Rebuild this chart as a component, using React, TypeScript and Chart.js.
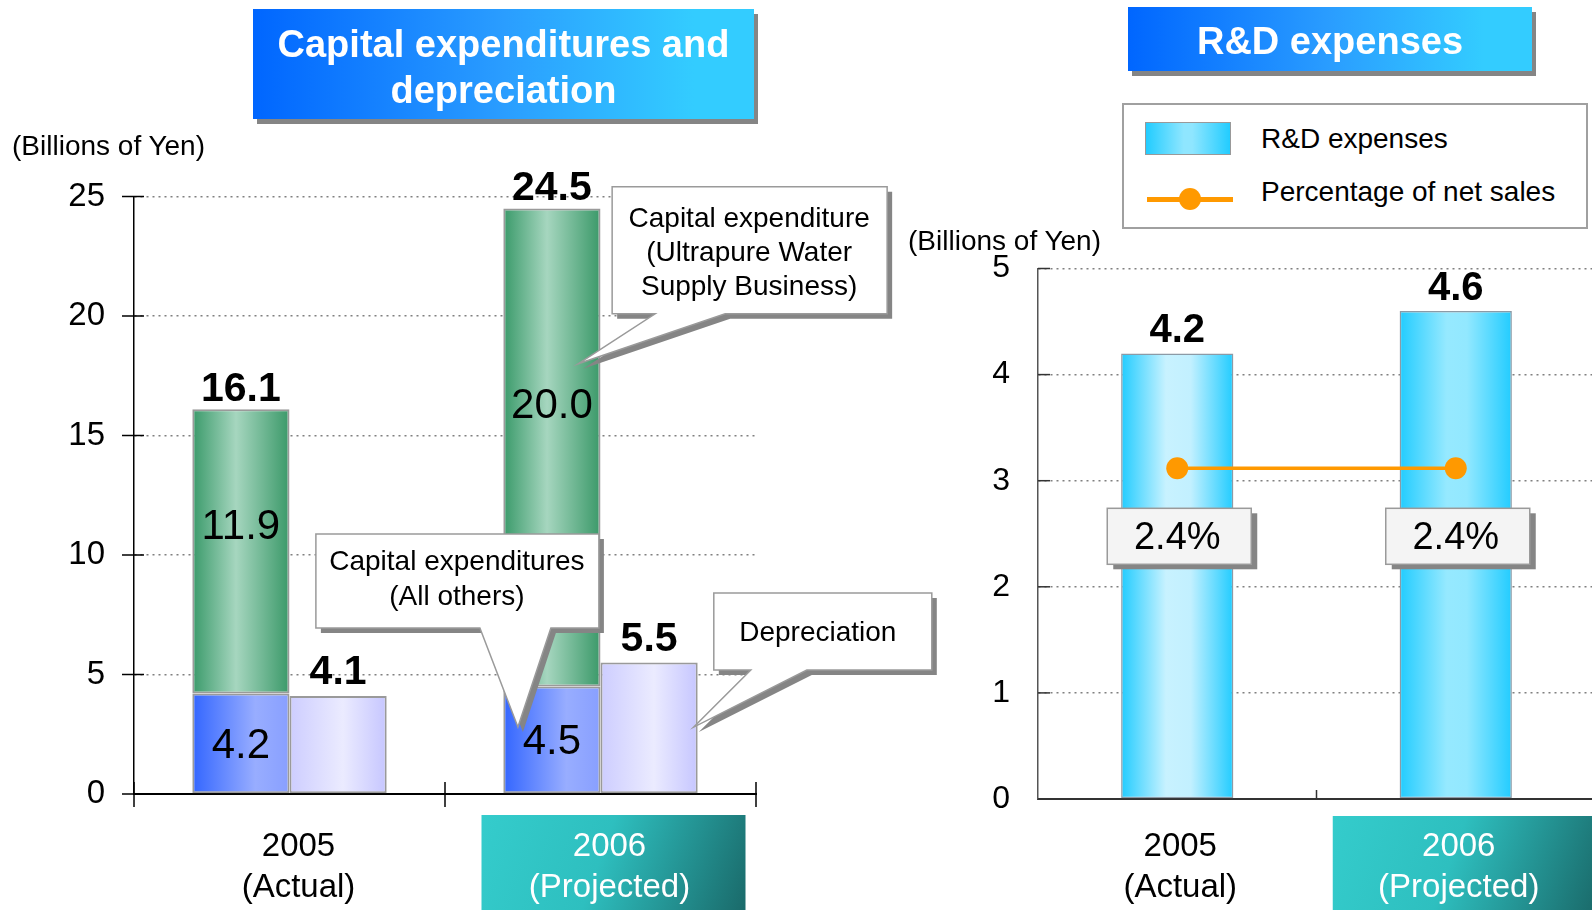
import { useEffect, useRef } from "react";
import { Chart, registerables } from "chart.js";

Chart.register(...registerables);

const FONT = "'Liberation Sans', Arial, Helvetica, sans-serif";

// ---------------- data ----------------
const years = ["2005", "2006"];
const yearNotes = ["(Actual)", "(Projected)"];
const capexOthers = [4.2, 4.5];
const capexUltrapure = [11.9, 20.0];
const depreciation = [4.1, 5.5];
const capexTicks = [0, 5, 10, 15, 20, 25];
const rdExpenses = [4.2, 4.6];
const rdPercentOfSales = [2.4, 2.4];
const rdTicks = [0, 1, 2, 3, 4, 5];

const capexTitle = ["Capital expenditures and", "depreciation"];
const rdTitle = "R&D expenses";
const unitLabel = "(Billions of Yen)";
const othersName = "Capital expenditures (All others)";
const ultraName = "Capital expenditure (Ultrapure Water Supply Business)";
const depName = "Depreciation";
const rdName = "R&D expenses";
const pctName = "Percentage of net sales";

// ---------------- annotations (layout only) ----------------
const capexCallouts = [
  { dataset: 1, index: 1, lines: ["Capital expenditure", "(Ultrapure Water", "Supply Business)"], tipFrac: 0.27, tipValue: 18.0, dx: 34, dy: -177, w: 275, h: 127, b1: 43, b2: 113, textDx: 137, textDys: [32, 66, 100] },
  { dataset: 0, index: 1, lines: ["Capital expenditures", "(All others)"], tipFrac: -0.35, tipValue: 2.8, dx: -202, dy: -193, w: 283, h: 94, b1: 164, b2: 235, textDx: 141, textDys: [28, 63] },
  { dataset: 2, index: 1, lines: ["Depreciation"], tipFrac: 0.46, tipValue: 2.8, dx: 20, dy: -134, w: 218, h: 77, b1: 37, b2: 93, textDx: 104, textDys: [40] },
];

type Stops = [number, string][];
const othersStops: Stops = [[0, "#3366ff"], [0.65, "#98adff"], [1, "#889fff"]];
const ultraStops: Stops = [[0, "#3a9a6a"], [0.45, "#a6d6bf"], [1, "#3b9969"]];
const depStops: Stops = [[0, "#cdcdff"], [0.55, "#ebebff"], [1, "#c6c6ff"]];
const rdStops: Stops[] = [
  [[0, "#22ccff"], [0.4, "#c8f2ff"], [0.62, "#c2f0ff"], [1, "#22ccff"]],
  [[0, "#22ccff"], [0.42, "#96e9ff"], [0.6, "#92e8ff"], [1, "#22ccff"]],
];

function barGradient(stopsFor: (i: number) => Stops, stackIdx: number, nStacks: number, catPct: number, barPct: number) {
  return (c: any) => {
    const chart = c.chart;
    const idx = c.dataIndex ?? 0;
    const stops = stopsFor(idx);
    const xs = chart.scales?.x;
    if (!chart.chartArea || !xs || c.dataIndex === undefined) return stops[1][1];
    const n = chart.data.labels.length;
    const catW = (xs.right - xs.left) / n;
    const center = xs.getPixelForValue(idx);
    const groupW = catW * catPct;
    const slot = groupW / nStacks;
    const barW = slot * barPct;
    const x0 = center - groupW / 2 + stackIdx * slot + (slot - barW) / 2;
    const g = chart.ctx.createLinearGradient(x0, 0, x0 + barW, 0);
    stops.forEach(([o, col]) => g.addColorStop(o, col));
    return g;
  };
}

function line(ctx: CanvasRenderingContext2D, x1: number, y1: number, x2: number, y2: number) {
  ctx.beginPath();
  ctx.moveTo(x1, y1);
  ctx.lineTo(x2, y2);
  ctx.stroke();
}

function drawTealBox(ctx: CanvasRenderingContext2D, x: number, y: number, w: number, h: number) {
  const g = ctx.createLinearGradient(x, y, x + w, y + h);
  g.addColorStop(0, "#34cccc");
  g.addColorStop(0.45, "#2ebfbf");
  g.addColorStop(1, "#1a6a6a");
  ctx.save();
  ctx.fillStyle = g;
  ctx.fillRect(x, y, w, h);
  ctx.restore();
}

function drawCallout(ctx: CanvasRenderingContext2D, bx: number, by: number, w: number, h: number, b1: number, b2: number, tx: number, ty: number) {
  const path = (dx: number, dy: number) => {
    ctx.beginPath();
    ctx.moveTo(bx + dx, by + dy);
    ctx.lineTo(bx + w + dx, by + dy);
    ctx.lineTo(bx + w + dx, by + h + dy);
    ctx.lineTo(bx + b2 + dx, by + h + dy);
    ctx.lineTo(tx + dx, ty + dy);
    ctx.lineTo(bx + b1 + dx, by + h + dy);
    ctx.lineTo(bx + dx, by + h + dy);
    ctx.closePath();
  };
  ctx.save();
  ctx.fillStyle = "#858585";
  path(5, 5);
  ctx.fill();
  ctx.fillStyle = "#ffffff";
  path(0, 0);
  ctx.fill();
  ctx.strokeStyle = "#9a9a9a";
  ctx.lineWidth = 1.5;
  ctx.lineJoin = "miter";
  ctx.stroke();
  ctx.restore();
}

const fmt = (v: number) => v.toFixed(1);

const capexPlugin = {
  id: "capexDecor",
  beforeDraw(chart: any) {
    const { ctx, chartArea: a, scales } = chart;
    const cx = scales.x.getPixelForValue(years.length - 1) + 13;
    drawTealBox(ctx, cx - 132, a.bottom + 21, 264, chart.height - a.bottom - 21);
  },
  afterDatasetsDraw(chart: any) {
    const { ctx, scales } = chart;
    const ys = scales.y;
    const mO = chart.getDatasetMeta(0);
    const mU = chart.getDatasetMeta(1);
    const mD = chart.getDatasetMeta(2);
    ctx.save();
    ctx.fillStyle = "#000";
    ctx.textAlign = "center";
    years.forEach((_, i) => {
      const o = mO.data[i];
      const u = mU.data[i];
      const d = mD.data[i];
      ctx.font = `42px ${FONT}`;
      ctx.textBaseline = "middle";
      ctx.fillText(fmt(capexOthers[i]), o.x, (o.y + o.base) / 2 + 3);
      ctx.fillText(fmt(capexUltrapure[i]), u.x, ys.getPixelForValue(capexOthers[i] + capexUltrapure[i] * 0.585));
      ctx.font = `bold 41px ${FONT}`;
      ctx.textBaseline = "alphabetic";
      ctx.fillText(fmt(capexOthers[i] + capexUltrapure[i]), u.x, u.y - 8);
      ctx.fillText(fmt(depreciation[i]), d.x, d.y - 12);
    });
    ctx.restore();
  },
  afterDraw(chart: any) {
    const { ctx, chartArea: a, scales } = chart;
    const xs = scales.x;
    const ys = scales.y;
    ctx.save();
    ctx.strokeStyle = "#000";
    ctx.lineWidth = 1.5;
    ys.ticks.forEach((t: any) => {
      const y = ys.getPixelForValue(t.value);
      line(ctx, a.left - 12, y, a.left + 10, y);
    });
    const n = years.length;
    const catW = (xs.right - xs.left) / n;
    for (let k = 0; k <= n; k++) {
      const x = xs.left + k * catW;
      line(ctx, x, a.bottom - 12, x, a.bottom + 13);
    }
    ctx.restore();

    capexCallouts.forEach((c) => {
      const el = chart.getDatasetMeta(c.dataset).data[c.index];
      const tx = el.x + c.tipFrac * el.width;
      const ty = ys.getPixelForValue(c.tipValue);
      const bx = tx + c.dx;
      const by = ty + c.dy;
      drawCallout(ctx, bx, by, c.w, c.h, c.b1, c.b2, tx, ty);
      ctx.save();
      ctx.fillStyle = "#000";
      ctx.font = `28px ${FONT}`;
      ctx.textAlign = "center";
      ctx.textBaseline = "middle";
      c.lines.forEach((t, j) => ctx.fillText(t, bx + c.textDx, by + c.textDys[j]));
      ctx.restore();
    });
  },
};

const rdPlugin = {
  id: "rdDecor",
  beforeDraw(chart: any) {
    const { ctx, chartArea: a, scales } = chart;
    const cx = scales.x.getPixelForValue(years.length - 1);
    drawTealBox(ctx, cx - 123, a.bottom + 17, 264, chart.height - a.bottom - 17);
  },
  afterDatasetsDraw(chart: any) {
    const { ctx } = chart;
    const mB = chart.getDatasetMeta(0);
    const mL = chart.getDatasetMeta(1);
    ctx.save();
    ctx.fillStyle = "#000";
    ctx.textAlign = "center";
    ctx.textBaseline = "alphabetic";
    ctx.font = `bold 40px ${FONT}`;
    years.forEach((_, i) => {
      const b = mB.data[i];
      ctx.fillText(fmt(rdExpenses[i]), b.x, b.y - 11);
    });
    years.forEach((_, i) => {
      const p = mL.data[i];
      const bx = p.x + 2 - 72;
      const by = p.y + 40;
      ctx.fillStyle = "#858585";
      ctx.fillRect(bx + 6, by + 5, 144, 56);
      ctx.fillStyle = "#f4f4f4";
      ctx.fillRect(bx, by, 144, 56);
      ctx.strokeStyle = "#9a9a9a";
      ctx.lineWidth = 1.5;
      ctx.strokeRect(bx, by, 144, 56);
      ctx.fillStyle = "#000";
      ctx.font = `38px ${FONT}`;
      ctx.textBaseline = "middle";
      ctx.fillText(rdPercentOfSales[i].toFixed(1) + "%", bx + 70, by + 30);
    });
    ctx.restore();
  },
  afterDraw(chart: any) {
    const { ctx, chartArea: a, scales } = chart;
    const xs = scales.x;
    const ys = scales.y;
    ctx.save();
    ctx.strokeStyle = "#333";
    ctx.lineWidth = 1.5;
    ys.ticks.forEach((t: any) => {
      const y = ys.getPixelForValue(t.value);
      line(ctx, a.left, y, a.left + 12, y);
    });
    const n = years.length;
    const catW = (xs.right - xs.left) / n;
    for (let k = 1; k < n; k++) {
      const x = xs.left + k * catW;
      line(ctx, x, a.bottom - 9, x, a.bottom);
    }
    ctx.restore();
  },
};

const categoryLabels = years.map((y, i) => [y, yearNotes[i]]);

function capexConfig(): any {
  const catPct = 0.625;
  return {
    type: "bar",
    data: {
      labels: categoryLabels,
      datasets: [
        { label: othersName, data: capexOthers, stack: "capex", backgroundColor: barGradient(() => othersStops, 0, 2, catPct, 1), borderColor: "#9a9a9a", borderWidth: 2, borderSkipped: false },
        { label: ultraName, data: capexUltrapure, stack: "capex", backgroundColor: barGradient(() => ultraStops, 0, 2, catPct, 1), borderColor: "#9a9a9a", borderWidth: 2, borderSkipped: false },
        { label: depName, data: depreciation, stack: "dep", backgroundColor: barGradient(() => depStops, 1, 2, catPct, 1), borderColor: "#9a9a9a", borderWidth: 2, borderSkipped: false },
      ],
    },
    options: {
      responsive: false,
      animation: false,
      devicePixelRatio: 1,
      events: [],
      layout: { padding: { top: 196.5, left: 0, right: 194, bottom: 0 } },
      datasets: { bar: { categoryPercentage: catPct, barPercentage: 1 } },
      plugins: { legend: { display: false }, tooltip: { enabled: false } },
      scales: {
        x: {
          stacked: true,
          afterFit: (s: any) => { s.height = 116; },
          grid: { display: false, drawTicks: false },
          border: { display: true, color: "#000", width: 2 },
          ticks: {
            padding: 32.5,
            labelOffset: 9,
            color: (c: any) => (c.index === years.length - 1 ? "#ffffff" : "#000000"),
            font: { family: FONT, size: 33, lineHeight: "41px" },
          },
        },
        y: {
          stacked: true,
          min: 0,
          max: 25,
          afterFit: (s: any) => { s.width = 134; },
          afterBuildTicks: (s: any) => { s.ticks = capexTicks.map((v) => ({ value: v })); },
          grid: { color: (c: any) => (c.tick && c.tick.value === 0 ? "rgba(0,0,0,0)" : "#808080"), lineWidth: 1.5, drawTicks: false },
          border: { display: true, color: "#000", width: 1.5, dash: [2, 4] },
          ticks: { padding: 29, color: "#000", font: { family: FONT, size: 33 } },
        },
      },
    },
    plugins: [capexPlugin],
  };
}

function rdConfig(): any {
  const barPct = 0.403;
  return {
    type: "bar",
    data: {
      labels: categoryLabels,
      datasets: [
        { type: "bar", label: rdName, data: rdExpenses, yAxisID: "y", order: 1, backgroundColor: barGradient((i) => rdStops[i], 0, 1, 1, barPct), borderColor: "#8c9aa6", borderWidth: 1.5, borderSkipped: false, categoryPercentage: 1, barPercentage: barPct },
        { type: "line", label: pctName, data: rdPercentOfSales, yAxisID: "y1", order: 0, borderColor: "#ff9900", borderWidth: 3.5, pointRadius: 11, pointHoverRadius: 11, pointBackgroundColor: "#ff9900", pointBorderWidth: 0 },
      ],
    },
    options: {
      responsive: false,
      animation: false,
      devicePixelRatio: 1,
      events: [],
      layout: { padding: { top: 268.5, left: 0, right: 0, bottom: 0 } },
      plugins: { legend: { display: false }, tooltip: { enabled: false } },
      scales: {
        x: {
          afterFit: (s: any) => { s.height = 111; },
          grid: { display: false, drawTicks: false },
          border: { display: true, color: "#333", width: 2 },
          ticks: {
            padding: 27.5,
            labelOffset: 3,
            color: (c: any) => (c.index === years.length - 1 ? "#ffffff" : "#000000"),
            font: { family: FONT, size: 33, lineHeight: "41px" },
          },
        },
        y: {
          min: 0,
          max: 5,
          afterFit: (s: any) => { s.width = 88; },
          afterBuildTicks: (s: any) => { s.ticks = rdTicks.map((v) => ({ value: v })); },
          grid: { color: (c: any) => (c.tick && c.tick.value === 0 ? "rgba(0,0,0,0)" : "#808080"), lineWidth: 1.5, drawTicks: false },
          border: { display: true, color: "#555", width: 1.5, dash: [2, 4] },
          ticks: { padding: 28, color: "#000", font: { family: FONT, size: 32 } },
        },
        y1: { display: false, min: 0, max: 3.85 },
      },
    },
    plugins: [rdPlugin],
  };
}

const titleStyle: any = {
  position: "absolute",
  boxSizing: "border-box",
  background: "linear-gradient(90deg, #0066ff 0%, #2a9dff 50%, #33ccff 88%, #33ccff 100%)",
  boxShadow: "4px 5px 0 #858585",
  color: "#ffffff",
  fontWeight: "bold",
  fontSize: 38,
  lineHeight: "46px",
  display: "flex",
  alignItems: "center",
  justifyContent: "center",
  textAlign: "center",
  whiteSpace: "nowrap",
};

const textStyle: any = { position: "absolute", fontSize: 28, lineHeight: "28px", color: "#000", whiteSpace: "nowrap" };

export default function App() {
  const leftRef = useRef<HTMLCanvasElement>(null);
  const rightRef = useRef<HTMLCanvasElement>(null);

  useEffect(() => {
    document.body.style.margin = "0";
    const left = new Chart(leftRef.current as HTMLCanvasElement, capexConfig());
    const right = new Chart(rightRef.current as HTMLCanvasElement, rdConfig());
    return () => {
      left.destroy();
      right.destroy();
    };
  }, []);

  return (
    <div style={{ position: "relative", width: 1592, height: 910, overflow: "hidden", background: "#fff", fontFamily: FONT }}>
      <style>{"body{margin:0;}"}</style>
      <canvas ref={leftRef} width={950} height={910} style={{ position: "absolute", left: 0, top: 0 }} />
      <canvas ref={rightRef} width={656} height={910} style={{ position: "absolute", left: 950, top: 0 }} />

      <div style={{ ...titleStyle, left: 253, top: 9, width: 501, height: 110, paddingTop: 5 }}>
        <div>
          {capexTitle[0]}
          <br />
          {capexTitle[1]}
        </div>
      </div>
      <div style={{ ...titleStyle, left: 1128, top: 7, width: 404, height: 64, paddingTop: 3 }}>{rdTitle}</div>

      <div style={{ ...textStyle, left: 12, top: 132 }}>{unitLabel}</div>
      <div style={{ ...textStyle, left: 908, top: 227 }}>{unitLabel}</div>

      <div style={{ position: "absolute", left: 1122, top: 103, width: 466, height: 126, border: "2px solid #a0a0a0", boxSizing: "border-box", background: "#fff" }} />
      <div style={{ position: "absolute", left: 1145, top: 122, width: 86, height: 33, boxSizing: "border-box", border: "1.5px solid #999", background: "linear-gradient(90deg, #22ccff 0%, #8fe6ff 45%, #8fe6ff 55%, #22ccff 100%)" }} />
      <div style={{ ...textStyle, left: 1261, top: 125 }}>{rdName}</div>
      <div style={{ position: "absolute", left: 1147, top: 197, width: 86, height: 5, background: "#ff9900" }} />
      <div style={{ position: "absolute", left: 1179, top: 188, width: 22, height: 22, borderRadius: "50%", background: "#ff9900" }} />
      <div style={{ ...textStyle, left: 1261, top: 178 }}>{pctName}</div>
    </div>
  );
}
